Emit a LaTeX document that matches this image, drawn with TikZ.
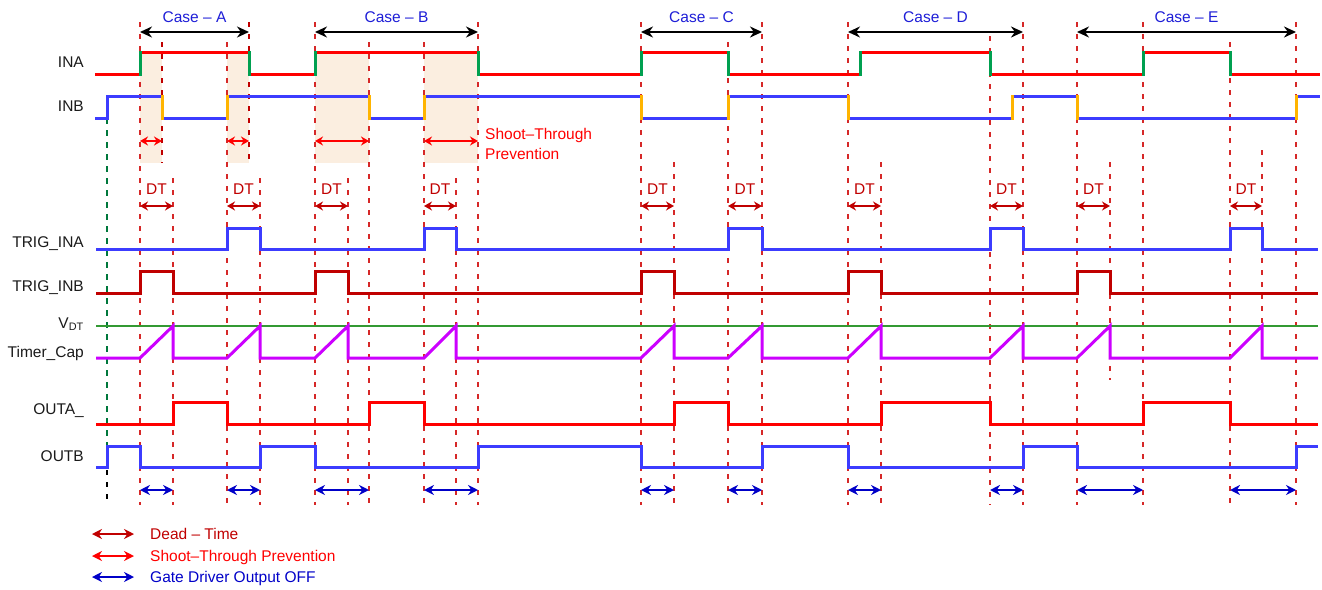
\documentclass[tikz,border=0pt]{standalone}
\usepackage{fontspec}
\setmainfont{Liberation Sans}
\usepackage{xcolor}
\usepackage{tikz}
\usetikzlibrary{arrows.meta}
\definecolor{sred}{RGB}{255,0,0}
\definecolor{sblue}{RGB}{60,60,255}
\definecolor{dred}{RGB}{192,0,0}
\definecolor{tickc}{RGB}{214,40,40}
\definecolor{egreen}{RGB}{0,160,80}
\definecolor{vgreen}{RGB}{51,153,51}
\definecolor{mag}{RGB}{204,0,255}
\definecolor{amber}{RGB}{255,180,0}
\definecolor{cblue}{RGB}{30,30,215}
\definecolor{oblue}{RGB}{0,0,200}
\definecolor{stpfill}{RGB}{251,238,224}
\definecolor{ink}{RGB}{26,26,26}
\newcommand{\lblfont}{\fontsize{15.5}{18}\selectfont}

\begin{document}
\begin{tikzpicture}[x=1pt,y=-1pt,
    sig/.style={line width=3pt,line cap=rect},
    tick/.style={tickc,line width=1.4pt,dash pattern=on 5pt off 7pt},
    casearr/.style={{Stealth[length=12pt,width=11pt]}-{Stealth[length=12pt,width=11pt]},line width=2.6pt,black},
    dtarr/.style={{Stealth[length=8pt,width=9pt]}-{Stealth[length=8pt,width=9pt]},line width=2.4pt,dred},
    starr/.style={{Stealth[length=8pt,width=9pt]}-{Stealth[length=8pt,width=9pt]},line width=2.4pt,sred},
    offarr/.style={{Stealth[length=10pt,width=10pt]}-{Stealth[length=10pt,width=10pt]},line width=2.8pt,oblue},
    lbl/.style={anchor=base east,inner sep=0pt,font=\lblfont,text=ink},
    txt/.style={anchor=base,inner sep=0pt,font=\lblfont},
    note/.style={anchor=base west,inner sep=0pt,font=\lblfont}]
  \useasboundingbox (0,0) rectangle (1322,589);
  \foreach \a/\b in {140/162,227/249,315/369,424/478}
    \fill[stpfill] (\a,52) rectangle (\b,163);
  \foreach \x/\ya/\yb in {140/22/505,173/178/505,227/42/505,260/178/505,315/22/505,348/178/505,369/42/505,424/42/505,456/178/505,478/22/505,641/22/505,674/162/505,728/42/505,762/22/505,848/22/505,881/162/505,990/36/505,1023/22/505,1077/22/505,1110/162/380,1143/22/505,1230/42/505,1262/150/360,1296/22/505}
    \draw[tick] (\x,\ya) -- (\x,\yb);
  \foreach \x/\ya in {162/42,249/22}
    \draw[tick,dred,line width=2.8pt] (\x,\ya) -- (\x,163);
  \draw[egreen!75!black,line width=2.4pt,dash pattern=on 6pt off 6pt] (107,118) -- (107,446);
  \draw[black,line width=1.3pt,dash pattern=on 5pt off 7pt] (107,446) -- (107,505);

  \foreach \a/\b/\c in {140/249/A,315/478/B,641/762/C,848/1023/D,1077/1296/E}{
    \draw[casearr] (\a,32) -- (\b,32);
    \node[txt,text=cblue] (case\c) at ({(\a+\b)/2},22) {Case – \c};
  }

  \node[lbl] (lINA) at (84,67) {INA};
  \node[lbl] (lINB) at (84,111) {INB};
  \node[lbl] (lTRIGA) at (84,247) {TRIG\_INA};
  \node[lbl] (lTRIGB) at (84,291) {TRIG\_INB};
  \node[lbl] (lVDT) at (84,328) {V\textsubscript{DT}};
  \node[lbl] (lCAP) at (84,357) {Timer\_Cap};
  \node[lbl] (lOUTA) at (84,414) {OUTA\_};
  \node[lbl] (lOUTB) at (84,461) {OUTB};

  \foreach \a/\b in {96/140,249/315,478/641,728/860,990/1143,1230/1318}
    \draw[sig,sred] (\a,74) -- (\b,74);
  \foreach \a/\b in {140/249,315/478,641/728,860/990,1143/1230}
    \draw[sig,sred] (\a,52) -- (\b,52);
  \foreach \x in {140,249,315,478,641,728,860,990,1143,1230}
    \draw[sig,egreen] (\x,52) -- (\x,74);

  \foreach \a/\b in {96/107,162/227,369/424,641/728,848/1012,1077/1296}
    \draw[sig,sblue] (\a,118) -- (\b,118);
  \foreach \a/\b in {107/162,227/369,424/641,728/848,1012/1077,1296/1318}
    \draw[sig,sblue] (\a,96) -- (\b,96);
  \draw[sig,sblue] (107,96) -- (107,118);
  \foreach \x in {162,227,369,424,641,728,848,1012,1077,1296}
    \draw[sig,amber] (\x,96) -- (\x,118);

  \foreach \a/\b in {140/162,227/249,315/369,424/478}
    \draw[starr] (\a,141) -- (\b,141);
  \node[note,text=sred] (st1) at (485,139) {Shoot–Through};
  \node[note,text=sred] (st2) at (485,159) {Prevention};

  \foreach \a/\b in {140/173,227/260,315/348,424/456,641/674,728/762,848/881,990/1023,1077/1110,1230/1262}{
    \draw[dtarr] (\a,206) -- (\b,206);
    \node[txt,text=dred] (dt\a) at ({(\a+\b)/2},194) {DT};
  }

  \draw[sig,sblue,line cap=butt] (96,249) \foreach \a/\b in {227/260,424/456,728/762,990/1023,1230/1262}{ -- (\a,249) -- (\a,228) -- (\b,228) -- (\b,249)} -- (1318,249);
  \draw[sig,dred,line cap=butt] (96,293) \foreach \a/\b in {140/173,315/348,641/674,848/881,1077/1110}{ -- (\a,293) -- (\a,271) -- (\b,271) -- (\b,293)} -- (1318,293);
  \draw[line width=2.6pt,vgreen] (96,326) -- (1318,326);
  \draw[sig,mag,line cap=butt] (96,358) \foreach \a/\b in {140/173,227/260,315/348,424/456,641/674,728/762,848/881,990/1023,1077/1110,1230/1262}{ -- (\a,358) -- (\b,326) -- (\b,358)} -- (1318,358);
  \draw[sig,sred,line cap=butt] (96,424) \foreach \a/\b in {173/227,369/424,674/728,881/990,1143/1230}{ -- (\a,424) -- (\a,402) -- (\b,402) -- (\b,424)} -- (1318,424);
  \draw[sig,sblue,line cap=butt] (96,467) \foreach \a/\b in {107/140,260/315,478/641,762/848,1023/1077}{ -- (\a,467) -- (\a,446) -- (\b,446) -- (\b,467)} -- (1296,467) -- (1296,446) -- (1318,446);

  \foreach \a/\b in {140/173,227/260,315/369,424/478,641/674,728/762,848/881,990/1023,1077/1143,1230/1296}
    \draw[offarr] (\a,490) -- (\b,490);

  \foreach \y/\c/\t in {534/dred/Dead – Time,556/sred/Shoot–Through Prevention,577/oblue/Gate Driver Output OFF}{
    \draw[offarr,\c] (92,\y) -- (134,\y);
    \node[note,text=\c] (leg\y) at (150,\y+5.5) {\t};
  }
\end{tikzpicture}
\end{document}
